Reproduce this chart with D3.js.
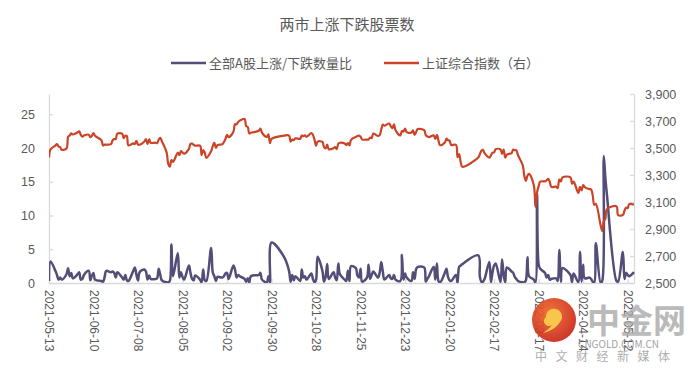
<!DOCTYPE html>
<html>
<head>
<meta charset="utf-8">
<script src="https://cdn.jsdelivr.net/npm/d3@7"></script>
<style>
  body { margin: 0; background: #fff; }
  svg { display: block; font-family: "Noto Sans CJK SC", "Liberation Sans", sans-serif; }
</style>
</head>
<body>
<svg id="chart" width="692" height="368"></svg>
<script>
// trading days
const dates = [
  // 2021-05
  "2021-05-13","2021-05-14","2021-05-17","2021-05-18","2021-05-19","2021-05-20","2021-05-21","2021-05-24","2021-05-25","2021-05-26","2021-05-27","2021-05-28","2021-05-31",
  // 2021-06
  "2021-06-01","2021-06-02","2021-06-03","2021-06-04","2021-06-07","2021-06-08","2021-06-09","2021-06-10","2021-06-11","2021-06-15","2021-06-16","2021-06-17","2021-06-18","2021-06-21","2021-06-22","2021-06-23","2021-06-24","2021-06-25","2021-06-28","2021-06-29","2021-06-30",
  // 2021-07
  "2021-07-01","2021-07-02","2021-07-05","2021-07-06","2021-07-07","2021-07-08","2021-07-09","2021-07-12","2021-07-13","2021-07-14","2021-07-15","2021-07-16","2021-07-19","2021-07-20","2021-07-21","2021-07-22","2021-07-23","2021-07-26","2021-07-27","2021-07-28","2021-07-29","2021-07-30",
  // 2021-08
  "2021-08-02","2021-08-03","2021-08-04","2021-08-05","2021-08-06","2021-08-09","2021-08-10","2021-08-11","2021-08-12","2021-08-13","2021-08-16","2021-08-17","2021-08-18","2021-08-19","2021-08-20","2021-08-23","2021-08-24","2021-08-25","2021-08-26","2021-08-27","2021-08-30","2021-08-31",
  // 2021-09
  "2021-09-01","2021-09-02","2021-09-03","2021-09-06","2021-09-07","2021-09-08","2021-09-09","2021-09-10","2021-09-13","2021-09-14","2021-09-15","2021-09-16","2021-09-17","2021-09-22","2021-09-23","2021-09-24","2021-09-27","2021-09-28","2021-09-29","2021-09-30",
  // 2021-10
  "2021-10-08","2021-10-11","2021-10-12","2021-10-13","2021-10-14","2021-10-15","2021-10-18","2021-10-19","2021-10-20","2021-10-21","2021-10-22","2021-10-25","2021-10-26","2021-10-27","2021-10-28","2021-10-29",
  // 2021-11
  "2021-11-01","2021-11-02","2021-11-03","2021-11-04","2021-11-05","2021-11-08","2021-11-09","2021-11-10","2021-11-11","2021-11-12","2021-11-15","2021-11-16","2021-11-17","2021-11-18","2021-11-19","2021-11-22","2021-11-23","2021-11-24","2021-11-25","2021-11-26","2021-11-29","2021-11-30",
  // 2021-12
  "2021-12-01","2021-12-02","2021-12-03","2021-12-06","2021-12-07","2021-12-08","2021-12-09","2021-12-10","2021-12-13","2021-12-14","2021-12-15","2021-12-16","2021-12-17","2021-12-20","2021-12-21","2021-12-22","2021-12-23","2021-12-24","2021-12-27","2021-12-28","2021-12-29","2021-12-30","2021-12-31",
  // 2022-01
  "2022-01-04","2022-01-05","2022-01-06","2022-01-07","2022-01-10","2022-01-11","2022-01-12","2022-01-13","2022-01-14","2022-01-17","2022-01-18","2022-01-19","2022-01-20","2022-01-21","2022-01-24","2022-01-25","2022-01-26","2022-01-27","2022-01-28",
  // 2022-02
  "2022-02-07","2022-02-08","2022-02-09","2022-02-10","2022-02-11","2022-02-14","2022-02-15","2022-02-16","2022-02-17","2022-02-18","2022-02-21","2022-02-22","2022-02-23","2022-02-24","2022-02-25","2022-02-28",
  // 2022-03
  "2022-03-01","2022-03-02","2022-03-03","2022-03-04","2022-03-07","2022-03-08","2022-03-09","2022-03-10","2022-03-11","2022-03-14","2022-03-15","2022-03-16","2022-03-17","2022-03-18","2022-03-21","2022-03-22","2022-03-23","2022-03-24","2022-03-25","2022-03-28","2022-03-29","2022-03-30","2022-03-31",
  // 2022-04
  "2022-04-01","2022-04-06","2022-04-07","2022-04-08","2022-04-11","2022-04-12","2022-04-13","2022-04-14","2022-04-15","2022-04-18","2022-04-19","2022-04-20","2022-04-21","2022-04-22","2022-04-25","2022-04-26","2022-04-27","2022-04-28","2022-04-29",
  // 2022-05
  "2022-05-05","2022-05-06","2022-05-09","2022-05-10","2022-05-11","2022-05-12","2022-05-13","2022-05-16"
];

// 上证综合指数 (right axis)
const shIndex = [
  3429,3490,3518,3529,3511,3507,3487,3497,3581,3593,3608,3600,3615,
  3624,3597,3584,3592,3599,3580,3591,3611,3590,3556,3518,3525,3525,3529,3557,3566,3566,3607,3606,3573,3591,
  3588,3519,3534,3530,3553,3525,3524,3548,3566,3528,3565,3539,3539,3536,3562,3575,3550,3467,3382,3361,3411,3397,
  3465,3447,3477,3466,3458,3494,3530,3532,3524,3517,3517,3447,3485,3465,3427,3477,3514,3540,3501,3522,3528,3544,
  3567,3597,3581,3621,3676,3675,3693,3703,3715,3662,3656,3607,3613,3628,3643,3613,3582,3602,3536,3568,
  3592,3592,3547,3562,3558,3572,3568,3593,3587,3594,3583,3610,3598,3562,3518,3547,
  3545,3506,3498,3526,3491,3499,3507,3492,3532,3539,3533,3521,3537,3520,3560,3582,3589,3592,3584,3564,3562,3563,
  3577,3573,3607,3589,3595,3637,3673,3666,3681,3661,3647,3675,3632,3593,3626,3622,3643,3618,3615,3630,3597,3620,3640,
  3632,3595,3586,3580,3593,3567,3597,3555,3521,3541,3569,3558,3555,3522,3524,3433,3455,3394,3361,
  3429,3453,3480,3486,3462,3429,3446,3465,3468,3491,3490,3457,3489,3429,3451,3462,
  3488,3484,3482,3448,3372,3294,3256,3296,3309,3223,3064,3170,3216,3251,3253,3260,3271,3250,3212,3214,3203,3266,3252,
  3282,3283,3236,3251,3167,3213,3186,3225,3211,3195,3194,3151,3079,3087,2928,2886,2958,2975,3047,
  3068,3002,3004,3035,3058,3054,3084,3080
];

// 全部A股上涨/下跌数量比 (left axis)
const upDownRatio = [
  0.3,3.2,1.8,1.2,0.5,0.8,0.5,1.3,2.2,1.0,1.5,0.7,1.3,
  1.6,0.5,0.6,1.2,1.8,0.4,1.1,1.5,0.5,0.3,0.2,0.9,1.8,1.6,1.7,1.5,0.8,1.6,0.8,0.5,1.2,
  0.4,0.3,1.8,2.3,1.2,0.4,1.6,2.0,1.7,0.5,1.1,0.6,0.6,0.7,2.1,1.2,0.4,0.1,0.1,0.3,5.7,1.0,
  4.4,0.8,1.6,0.9,0.5,2.6,1.5,0.6,0.4,1.1,0.5,0.1,2.0,0.4,0.3,5.2,1.6,1.0,0.3,0.9,0.8,1.0,
  1.4,1.5,0.6,2.6,2.0,0.8,1.2,1.0,0.6,0.2,0.7,0.1,1.0,1.2,1.5,0.5,0.1,1.0,0.1,6.0,
  3.8,1.8,0.2,1.2,0.4,1.0,0.3,2.0,0.8,1.0,0.5,1.4,0.6,0.1,0.5,3.9,
  1.8,0.2,0.9,2.8,0.6,1.6,0.8,0.4,2.9,1.3,0.5,0.3,1.8,0.3,2.5,2.2,1.1,0.8,2.1,0.2,0.8,2.7,
  0.6,1.2,1.7,0.8,1.5,3.1,1.7,0.5,1.2,0.7,0.6,1.2,0.5,0.3,4.2,0.5,1.4,0.8,0.3,1.6,0.6,2.1,2.4,
  2.3,0.2,0.6,1.0,2.4,0.5,2.9,0.3,0.1,1.5,2.1,0.9,0.4,0.3,1.2,0.05,2.4,2.6,2.8,
  4.1,1.0,0.2,0.2,0.6,3.1,0.15,1.6,2.6,2.9,0.15,3.5,1.2,0.1,2.3,1.7,
  1.5,0.9,0.6,0.3,0.1,0.1,0.4,3.8,1.0,0.5,0.05,13.3,2.8,2.1,1.5,0.8,1.2,0.5,0.6,0.7,0.3,4.9,0.2,
  2.2,1.2,0.15,1.4,0.1,4.6,0.2,2.7,0.7,0.8,0.6,0.2,0.1,5.9,0.05,0.3,18.8,15.5,13.0,
  0.3,0.2,4.6,0.6,1.5,1.2,1.0,1.6
];

const xTickLabels = ["2021-05-13","2021-06-10","2021-07-08","2021-08-05","2021-09-02","2021-09-30","2021-10-28",
  "2021-11-25","2021-12-23","2022-01-20","2022-02-17","2022-03-17","2022-04-14","2022-05-12"];
const leftTicks = [0, 5, 10, 15, 20, 25];
const rightTicks = [2500, 2700, 2900, 3100, 3300, 3500, 3700, 3900];

const seriesNames = ["全部A股上涨/下跌数量比", "上证综合指数（右）"];
const chartTitle = "两市上涨下跌股票数";

const purple = "#524e78";
const red = "#cc4427";
const axisGrey = "#d9d9d9";
const textGrey = "#595959";

const parse = d3.timeParse("%Y-%m-%d");
const rows = dates.map((d, i) => ({ date: parse(d), sh: shIndex[i], ratio: upDownRatio[i] }));

const plotL = 49, plotR = 634, plotT = 94, plotB = 283;

const x = d3.scaleTime()
  .domain([parse("2021-05-13"), parse("2022-05-16")])
  .range([plotL, plotR]);
const yL = d3.scaleLinear().domain([0, 28]).range([plotB, plotT]);
const yR = d3.scaleLinear().domain([2500, 3900]).range([plotB, plotT]);

const svg = d3.select("#chart");
svg.append("rect").attr("width", 692).attr("height", 368).attr("fill", "#fff");

// title
svg.append("text")
  .attr("x", 347).attr("y", 30)
  .attr("text-anchor", "middle")
  .attr("font-size", 15)
  .attr("fill", textGrey)
  .text(chartTitle);

// legend
const legend = svg.append("g").attr("font-size", 13).attr("fill", textGrey);
[[171, purple, seriesNames[0]], [384, red, seriesNames[1]]].forEach(([lx, c, t]) => {
  legend.append("line").attr("x1", lx).attr("x2", lx + 35).attr("y1", 63).attr("y2", 63)
    .attr("stroke", c).attr("stroke-width", 2.5);
  legend.append("text").attr("x", lx + 38).attr("y", 67.5).text(t);
});

// axes
function styleAxis(g) {
  g.selectAll(".domain").attr("stroke", axisGrey).attr("stroke-width", 1.3);
  g.selectAll(".tick line").attr("stroke", axisGrey).attr("stroke-width", 1.3);
  g.selectAll(".tick text").attr("fill", textGrey).attr("font-size", 12.5)
    .attr("font-family", "'Liberation Sans', Arial, sans-serif");
}

const xAxis = d3.axisBottom(x)
  .tickValues(xTickLabels.map(parse))
  .tickFormat(d3.timeFormat("%Y-%m-%d"))
  .tickSizeInner(-4).tickSizeOuter(0);
const gx = svg.append("g").attr("transform", "translate(0," + plotB + ")").call(xAxis);
styleAxis(gx);
gx.selectAll(".tick text")
  .attr("transform", "rotate(90)")
  .attr("text-anchor", "start")
  .attr("x", 7).attr("y", 0).attr("dy", "0.35em")
  .attr("font-size", 12);

const gl = svg.append("g").attr("transform", "translate(" + plotL + ",0)")
  .call(d3.axisLeft(yL).tickValues(leftTicks).tickSizeInner(-4).tickSizeOuter(0).tickPadding(14));
styleAxis(gl);

const gr = svg.append("g").attr("transform", "translate(" + plotR + ",0)")
  .call(d3.axisRight(yR).tickValues(rightTicks).tickFormat(d3.format(",")).tickSizeInner(-4).tickSizeOuter(0).tickPadding(11));
styleAxis(gr);

// lines
svg.append("clipPath").attr("id", "plot-clip")
  .append("rect").attr("x", plotL).attr("y", plotT - 5).attr("width", plotR - plotL + 2).attr("height", plotB - plotT + 5);

const plot = svg.append("g").attr("clip-path", "url(#plot-clip)");

const shLine = d3.line()
  .x(d => x(d.date)).y(d => yR(d.sh))
  .curve(d3.curveCatmullRom.alpha(0.5));
const ratioLine = d3.line()
  .x(d => x(d.date)).y(d => yL(d.ratio))
  .curve(d3.curveCatmullRom.alpha(0.5));

plot.append("path").datum(rows)
  .attr("d", ratioLine)
  .attr("fill", "none").attr("stroke", purple).attr("stroke-width", 2.5)
  .attr("stroke-linejoin", "round");

plot.append("path").datum(rows)
  .attr("d", shLine)
  .attr("fill", "none").attr("stroke", red).attr("stroke-width", 2.2)
  .attr("stroke-linejoin", "round");

// watermark (site logo over the lower right corner)
const wm = svg.append("g").attr("opacity", 0.92);
const grad = svg.append("defs").append("radialGradient").attr("id", "wm-grad")
  .attr("cx", "40%").attr("cy", "35%").attr("r", "70%");
grad.append("stop").attr("offset", "0%").attr("stop-color", "#f06a2a");
grad.append("stop").attr("offset", "100%").attr("stop-color", "#c8231a");
wm.append("circle").attr("cx", 554).attr("cy", 320).attr("r", 22).attr("fill", "url(#wm-grad)");
wm.append("path")
  .attr("d", "M546,317 a8,8 0 1,1 14,5 c-3,5 -9,9 -17,11 c6,-4 10,-8 11,-12 a5,5 0 1,1 -8,-4 z")
  .attr("fill", "#f7c23c");
wm.append("text").attr("x", 587).attr("y", 333)
  .attr("font-size", 33).attr("font-weight", "bold").attr("fill", "#a9a9a9")
  .attr("opacity", 0.85).text("中金网");
wm.append("text").attr("x", 578).attr("y", 348)
  .attr("font-size", 10).attr("fill", "#9a9a9a").text("CNGOLD.COM.CN");
wm.append("text").attr("x", 535).attr("y", 361)
  .attr("font-size", 12).attr("fill", "#a9a9a9").attr("letter-spacing", 8.5).text("中文财经新媒体");
</script>
</body>
</html>
